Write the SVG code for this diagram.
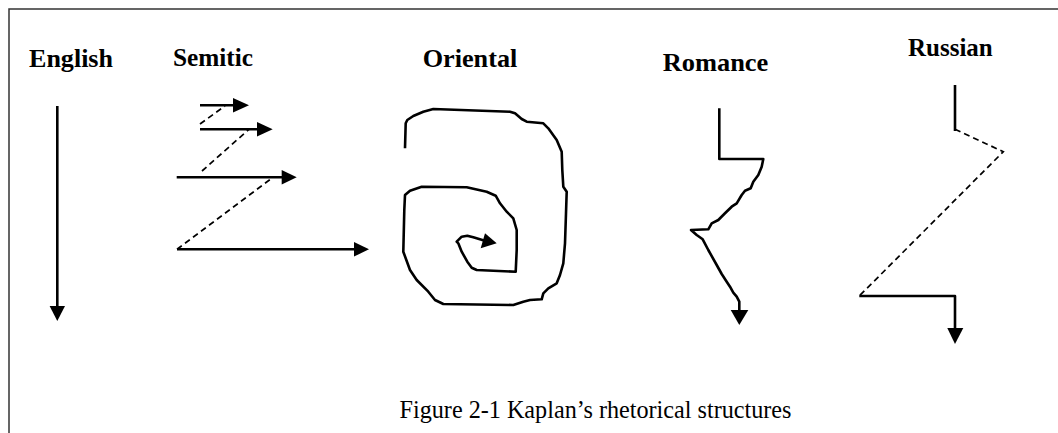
<svg xmlns="http://www.w3.org/2000/svg" width="1058" height="433" viewBox="0 0 1058 433">
<style>
.lbl{font-family:"Liberation Serif","Times New Roman",serif;font-weight:bold;font-size:26px;fill:#000}
.cap{font-family:"Liberation Serif","Times New Roman",serif;font-size:25.5px;fill:#000}
.ln{fill:none;stroke:#000;stroke-width:2.6;stroke-linejoin:round;stroke-linecap:butt}
.ds{fill:none;stroke:#000;stroke-width:1.7;stroke-dasharray:6 4}
.hd{fill:#000;stroke:none}
.frame{fill:none;stroke:#333;stroke-width:1.5}
</style>
<rect width="1058" height="433" fill="#fff"/>
<path class="frame" d="M9,433 V9 H1058"/>
<g id="english">
<text class="lbl" x="29" y="67" textLength="84" lengthAdjust="spacingAndGlyphs">English</text>
<line class="ln" x1="57.3" y1="106" x2="57.3" y2="307"/>
<polygon class="hd" points="49.6,306 65,306 57.3,321"/>
</g>
<g id="semitic">
<text class="lbl" x="173" y="66" textLength="80" lengthAdjust="spacingAndGlyphs">Semitic</text>
<line class="ln" x1="200" y1="105.3" x2="234" y2="105.3"/>
<polygon class="hd" points="233,98 249,105.3 233,112.6"/>
<line class="ln" x1="200" y1="129.3" x2="258" y2="129.3"/>
<polygon class="hd" points="257,122 272.7,129.3 257,136.6"/>
<line class="ln" x1="176.7" y1="177.3" x2="282" y2="177.3"/>
<polygon class="hd" points="281.7,170 296.7,177.3 281.7,184.6"/>
<line class="ln" x1="177" y1="249.3" x2="355" y2="249.3"/>
<polygon class="hd" points="354,242 369,249.3 354,256.6"/>
</g>
<g id="oriental">
<text class="lbl" x="422.7" y="66.7" textLength="94.6" lengthAdjust="spacingAndGlyphs">Oriental</text>
<path class="ln" d="M405,148.3 L405.7,123.3 L407.3,120 L413.3,116 L423.3,111.7 L433.3,109 L510,111.7 L515,113.3 L521.7,119 L526.7,121.7 L543.3,123.3 L548.3,128.3 L556.7,140 L561.7,151.7 L562.3,170 L563.3,186.7 L566.7,191.7 L566,213.3 L565,243.3 L563.3,263.3 L560,275 L556.7,283.3 L548.3,288.3 L543.3,293.3 L541.7,299.3 L530,300 L523.3,301.7 L513.3,305 L443.3,304 L435,300 L428.3,291.7 L416.7,280 L410,270 L403.3,251.7 L404.3,210 L405,195 L410,190.7 L421.7,186.7 L466.7,187.3 L486.7,191.7 L495.7,195.7 L500,203.3 L506.7,211.7 L513.3,218.3 L516.7,230 L516.7,250 L515.7,271.7 L476.7,270 L471.7,267.7 L467.3,261.7 L461.7,251.7 L458.3,243.3 L456.7,241.7 L461.7,236.7 L467.3,235.7 L473.3,237.3 L484,240.5"/>
<polygon class="hd" points="485,233.3 496.7,243.3 480.7,248.3"/>
</g>
<g id="romance">
<text class="lbl" x="662.7" y="70.7" textLength="105.6" lengthAdjust="spacingAndGlyphs">Romance</text>
<path class="ln" d="M719.3,108.3 L719.3,159 L763.3,159 L761.7,166.7 L758.3,175 L753.3,181.7 L750.7,188.3 L745,190.7 L741.7,195 L736.7,203.3 L731.7,206.7 L725,213.3 L718.3,220 L711.7,223.3 L708.3,229.3 L691,230 L696.7,235 L702.7,239.3 L708.3,250 L716.7,265 L721.7,274 L726.7,281.7 L730,286.7 L733.3,292.7 L736.7,296.7 L739.3,301.7 L739.3,311"/>
<polygon class="hd" points="730.7,310 748.3,310 739.3,325"/>
</g>
<g id="russian">
<text class="lbl" x="908" y="55.7" textLength="84.7" lengthAdjust="spacingAndGlyphs">Russian</text>
<line class="ln" x1="955" y1="85" x2="955" y2="131"/>
<path class="ds" d="M955,129.3 L1003.3,151.7 L859.3,296"/>
<path class="ln" d="M859.3,296 L955,296 L955,329"/>
<polygon class="hd" points="947.3,328 963.3,328 955,344"/>
</g>
<text class="cap" x="399.5" y="418.3" textLength="392" lengthAdjust="spacingAndGlyphs">Figure 2-1 Kaplan’s rhetorical structures</text>
<g id="connectors">
<path class="ds" d="M200,124 L225,106"/>
<path class="ds" d="M202,171 L249,129.3"/>
<path class="ds" d="M177,249.3 L273,177.3"/>
</g>
</svg>
